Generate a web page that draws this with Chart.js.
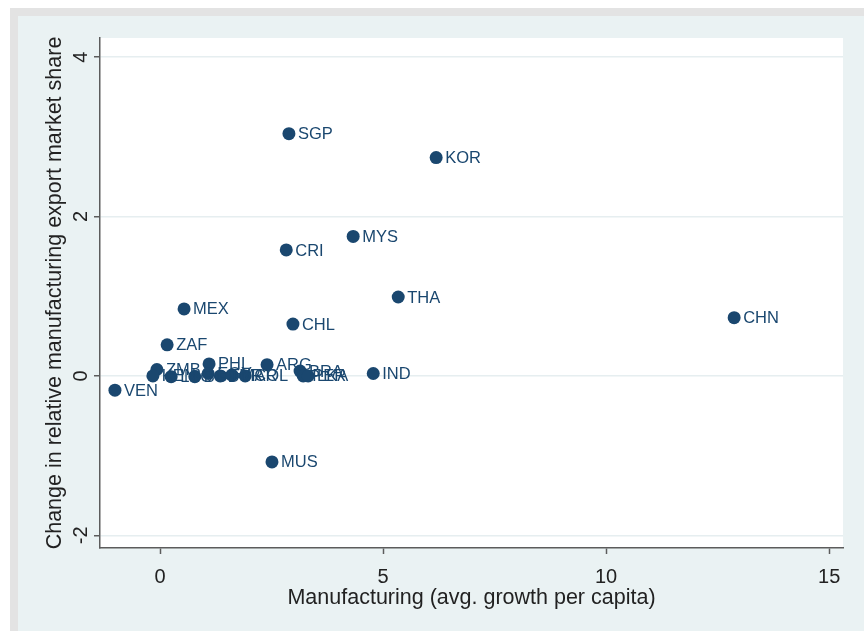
<!DOCTYPE html>
<html lang="en">
<head>
  <meta charset="UTF-8" />
  <title>Manufacturing growth vs export market share</title>
  <script src="https://cdn.jsdelivr.net/npm/chart.js"></script>
  <style>
    html, body {
      margin: 0;
      padding: 0;
      background: #ffffff;
      overflow: hidden;
    }
    .frame {
      position: absolute;
      left: 10px;
      top: 8px;
      width: 846px;
      height: 615px;
      border-left: 8px solid #e3e3e3;
      border-top: 8px solid #e3e3e3;
      background: #eaf2f3;
    }
    #chart {
      display: block;
    }
  </style>
</head>
<body>
  <div class="frame">
    <canvas id="chart" width="846" height="615"></canvas>
  </div>

  <script>
    // country codes and their coordinates
    const countries = ['SGP', 'KOR', 'MYS', 'CRI', 'THA', 'CHN', 'MEX', 'CHL', 'ZAF', 'PHL', 'ARG', 'ZMB',
                       'KEN', 'LSO', 'BGD', 'EGY', 'TUR', 'MAR', 'COL', 'BRA', 'PER', 'LKA', 'IND', 'VEN', 'MUS'];
    const growth = [2.89, 6.19, 4.33, 2.83, 5.34, 12.87, 0.54, 2.98, 0.16, 1.10, 2.40, -0.07,
                    -0.16, 0.25, 0.78, 1.08, 1.35, 1.61, 1.91, 3.14, 3.21, 3.32, 4.78, -1.01, 2.51];
    const shareChange = [3.04, 2.74, 1.75, 1.58, 0.99, 0.73, 0.84, 0.65, 0.39, 0.15, 0.14, 0.08,
                         0.00, -0.01, -0.01, 0.03, 0.00, 0.01, 0.00, 0.06, 0.00, 0.00, 0.03, -0.18, -1.08];
    const xTicks = [0, 5, 10, 15];
    const yTicks = [-2, 0, 2, 4];

    const navy = '#1a476f';
    const axisGray = '#5c5c5c';
    const font = 'Liberation Sans, Arial, sans-serif';

    const points = growth.map((g, i) => ({ x: g, y: shareChange[i] }));

    // white plot region behind the markers
    const plotBackground = {
      id: 'plotBackground',
      beforeDraw(chart) {
        const { ctx, chartArea: a } = chart;
        ctx.save();
        ctx.fillStyle = '#ffffff';
        ctx.fillRect(a.left, a.top, a.right - a.left, a.bottom - a.top);
        ctx.restore();
      }
    };

    // vertical y tick labels, centred on their ticks
    const yTickLabels = {
      id: 'yTickLabels',
      afterDraw(chart) {
        const { ctx } = chart;
        const y = chart.scales.y;
        ctx.save();
        ctx.fillStyle = '#222';
        ctx.font = '20px ' + font;
        ctx.textAlign = 'center';
        ctx.textBaseline = 'middle';
        y.ticks.forEach(t => {
          const py = y.getPixelForValue(t.value);
          ctx.save();
          ctx.translate(y.right - 19, py);
          ctx.rotate(-Math.PI / 2);
          ctx.fillText(String(t.value), 0, 0);
          ctx.restore();
        });
        ctx.restore();
      }
    };

    // country code next to each marker
    const pointLabels = {
      id: 'pointLabels',
      afterDatasetsDraw(chart) {
        const { ctx } = chart;
        const meta = chart.getDatasetMeta(0);
        ctx.save();
        ctx.fillStyle = navy;
        ctx.font = '16.5px ' + font;
        ctx.textAlign = 'left';
        ctx.textBaseline = 'middle';
        meta.data.forEach((el, i) => {
          ctx.fillText(countries[i], el.x + 9, el.y + 1);
        });
        ctx.restore();
      }
    };

    new Chart(document.getElementById('chart'), {
      type: 'scatter',
      data: {
        datasets: [{
          data: points,
          backgroundColor: navy,
          borderColor: navy,
          borderWidth: 0,
          pointRadius: 6.5,
          pointHoverRadius: 6.5
        }]
      },
      options: {
        responsive: false,
        animation: false,
        events: [],
        layout: { padding: { top: 22, right: 21, left: 0, bottom: 0 } },
        plugins: {
          legend: { display: false },
          tooltip: { enabled: false }
        },
        scales: {
          x: {
            type: 'linear',
            min: -1.345,
            max: 15.31,
            afterBuildTicks: s => { s.ticks = xTicks.map(v => ({ value: v })); },
            afterFit: s => { s.height = 83; },
            grid: {
              drawOnChartArea: false,
              drawTicks: true,
              tickLength: 6,
              tickColor: axisGray,
              tickWidth: 1.5
            },
            border: { color: axisGray, width: 1.5 },
            ticks: {
              color: '#222',
              padding: 11,
              maxRotation: 0,
              font: { family: font, size: 20 }
            },
            title: {
              display: true,
              text: 'Manufacturing (avg. growth per capita)',
              color: '#222',
              font: { family: font, size: 21.5 },
              padding: { top: 0, bottom: 20 }
            }
          },
          y: {
            type: 'linear',
            min: -2.16,
            max: 4.24,
            afterBuildTicks: s => { s.ticks = yTicks.map(v => ({ value: v })); },
            afterFit: s => { s.width = 82; },
            grid: {
              color: '#e6eef0',
              lineWidth: 1.5,
              drawTicks: true,
              tickLength: 6,
              tickColor: axisGray,
              tickWidth: 1.5
            },
            border: { color: axisGray, width: 1.5 },
            ticks: {
              display: false
            },
            title: {
              display: true,
              text: 'Change in relative manufacturing export market share',
              color: '#222',
              font: { family: font, size: 21.5 },
              padding: { top: 24, bottom: 0 }
            }
          }
        }
      },
      plugins: [plotBackground, yTickLabels, pointLabels]
    });
  </script>
</body>
</html>
